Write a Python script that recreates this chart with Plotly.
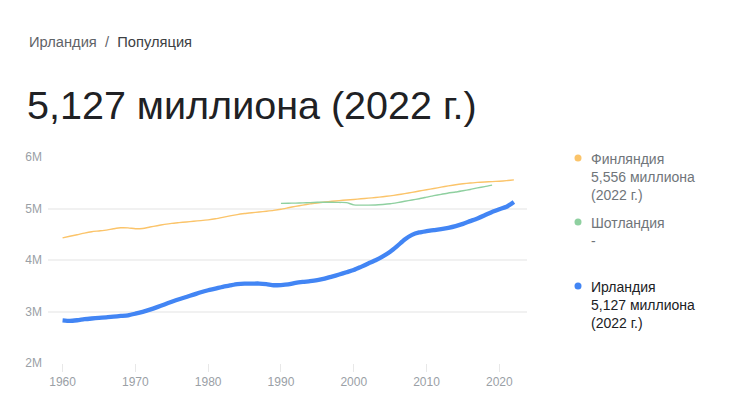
import plotly.graph_objects as go

years_ie = list(range(1960, 2023))
ireland = [2.829, 2.818, 2.830, 2.850, 2.864, 2.876, 2.884, 2.900, 2.913, 2.926,
           2.957, 2.992, 3.036, 3.085, 3.137, 3.189, 3.238, 3.282, 3.327, 3.373,
           3.412, 3.444, 3.480, 3.505, 3.530, 3.541, 3.542, 3.543, 3.531, 3.510,
           3.514, 3.526, 3.556, 3.575, 3.589, 3.609, 3.638, 3.678, 3.718, 3.762,
           3.805, 3.867, 3.932, 3.996, 4.071, 4.160, 4.274, 4.399, 4.489, 4.536,
           4.560, 4.580, 4.600, 4.624, 4.657, 4.702, 4.755, 4.807, 4.868, 4.934,
           4.986, 5.034, 5.127]

years_fi = list(range(1960, 2023))
finland = [4.430, 4.461, 4.491, 4.523, 4.549, 4.564, 4.581, 4.606, 4.626, 4.624,
           4.606, 4.612, 4.640, 4.666, 4.691, 4.712, 4.726, 4.739, 4.753, 4.765,
           4.780, 4.800, 4.827, 4.856, 4.882, 4.902, 4.918, 4.932, 4.947, 4.964,
           4.986, 5.014, 5.042, 5.066, 5.089, 5.108, 5.125, 5.140, 5.153, 5.165,
           5.176, 5.188, 5.201, 5.213, 5.228, 5.246, 5.266, 5.289, 5.313, 5.339,
           5.363, 5.388, 5.414, 5.439, 5.462, 5.480, 5.495, 5.508, 5.516, 5.522,
           5.530, 5.541, 5.556]

years_sc = list(range(1990, 2020))
scotland = [5.100, 5.102, 5.105, 5.110, 5.115, 5.120, 5.120, 5.120, 5.118, 5.115,
            5.070, 5.065, 5.065, 5.068, 5.078, 5.092, 5.115, 5.140, 5.165, 5.190,
            5.220, 5.250, 5.275, 5.300, 5.320, 5.345, 5.370, 5.400, 5.425, 5.455]

x_ticks = [1960, 1970, 1980, 1990, 2000, 2010, 2020]
y_ticks = [2, 3, 4, 5, 6]
y_tick_labels = ["2M", "3M", "4M", "5M", "6M"]

ORANGE = "#fbc46a"
GREEN = "#8fd0a0"
BLUE = "#4285f4"
FONT = "Arial, Liberation Sans, sans-serif"

# the page body adds an 8px offset; work in window coordinates and shift
OFF = 8
W, H = 744 - OFF, 400 - OFF
ML, MR, MT, MB = 40, 217, 149, 37
PW, PH = W - ML - MR, H - MT - MB


def px(x):
    return (x - OFF - ML) / PW


def py(y):
    return (H - MB - (y - OFF)) / PH


fig = go.Figure()
fig.add_trace(go.Scatter(x=years_fi, y=finland, mode="lines",
                         line=dict(color=ORANGE, width=1.4, shape="spline", smoothing=0.6),
                         hoverinfo="skip"))
fig.add_trace(go.Scatter(x=years_sc, y=scotland, mode="lines",
                         line=dict(color=GREEN, width=1.4, shape="spline", smoothing=0.6),
                         hoverinfo="skip"))
fig.add_trace(go.Scatter(x=years_ie, y=ireland, mode="lines",
                         line=dict(color=BLUE, width=4.3, shape="spline", smoothing=0.6),
                         hoverinfo="skip"))

annotations = [
    dict(x=px(27), y=py(42), xref="paper", yref="paper", xanchor="left", yanchor="middle",
         text="<span style='color:#5f6368'>Ирландия</span>  <span style='color:#5f6368'>/</span>  <span style='color:#3c4043'>Популяция</span>",
         showarrow=False, font=dict(family=FONT, size=14.7)),
    dict(x=px(25), y=py(105), xref="paper", yref="paper", xanchor="left", yanchor="middle",
         text="5,127 миллиона (2022 г.)", showarrow=False,
         font=dict(family=FONT, size=39.5, color="#202124")),
    dict(x=px(589), y=py(149), xref="paper", yref="paper", xanchor="left", yanchor="top",
         align="left", text="Финляндия<br>5,556 миллиона<br>(2022 г.)", showarrow=False,
         font=dict(family=FONT, size=14, color="#70757a")),
    dict(x=px(589), y=py(213), xref="paper", yref="paper", xanchor="left", yanchor="top",
         align="left", text="Шотландия<br>-", showarrow=False,
         font=dict(family=FONT, size=14, color="#70757a")),
    dict(x=px(589), y=py(277), xref="paper", yref="paper", xanchor="left", yanchor="top",
         align="left", text="Ирландия<br>5,127 миллиона<br>(2022 г.)", showarrow=False,
         font=dict(family=FONT, size=14, color="#202124")),
]

shapes = []
for cy, col in [(158, ORANGE), (222, GREEN), (286, BLUE)]:
    shapes.append(dict(type="circle", xref="paper", yref="paper",
                       xsizemode="pixel", ysizemode="pixel",
                       xanchor=px(578), yanchor=py(cy),
                       x0=-3.5, x1=3.5, y0=-3.5, y1=3.5,
                       fillcolor=col, line=dict(width=0)))

fig.update_layout(
    width=W, height=H,
    margin=dict(l=ML, r=MR, t=MT, b=MB, pad=0),
    paper_bgcolor="white", plot_bgcolor="white",
    showlegend=False,
    annotations=annotations,
    shapes=shapes,
    xaxis=dict(range=[1958, 2023.8], tickvals=x_ticks, ticks="outside", ticklen=8,
               tickcolor="#e8e8e8", showgrid=False, zeroline=False, showline=False,
               tickfont=dict(family=FONT, size=12, color="#9aa0a6"), fixedrange=True),
    yaxis=dict(range=[2, 6], tickvals=y_ticks, ticktext=y_tick_labels,
               gridcolor="#f1f1f1", gridwidth=1.5, zeroline=False, showline=False,
               ticklabelstandoff=5,
               tickfont=dict(family=FONT, size=12, color="#9aa0a6"), fixedrange=True),
)

fig.write_html("out.html", config={"displayModeBar": False})
